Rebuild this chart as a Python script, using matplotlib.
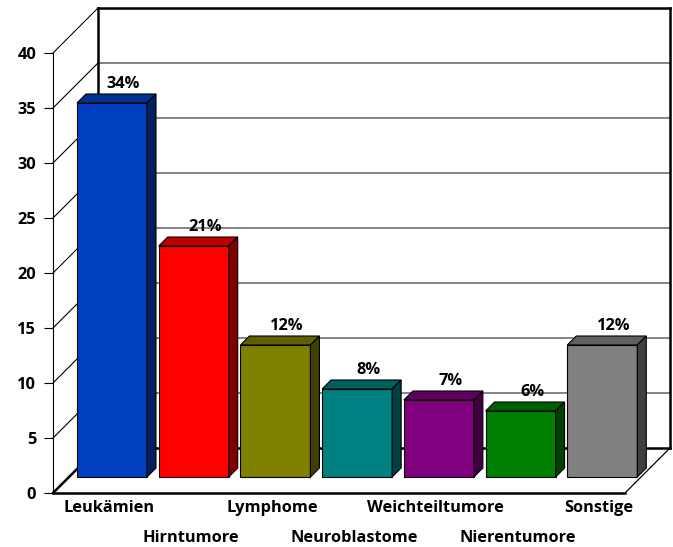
"""
Pseudo-3D bar chart: Verteilung der Krebserkrankungen im Kindesalter.
"""

import matplotlib
matplotlib.use("Agg")
import matplotlib.pyplot as plt
from matplotlib.patches import Polygon

# ---------------------------------------------------------------------------
# Data
# ---------------------------------------------------------------------------
categories = ["Leukämien", "Hirntumore", "Lymphome", "Neuroblastome",
              "Weichteiltumore", "Nierentumore", "Sonstige"]
values = [34, 21, 12, 8, 7, 6, 12]
value_labels = ["34%", "21%", "12%", "8%", "7%", "6%", "12%"]
y_ticks = [0, 5, 10, 15, 20, 25, 30, 35, 40]

front_colors = ["#0040C0", "#FF0000", "#808000", "#008080",
                "#800080", "#008000", "#808080"]
top_colors = ["#003090", "#C00000", "#606000", "#006060",
              "#600060", "#006000", "#606060"]
side_colors = ["#002060", "#800000", "#404000", "#004040",
               "#400040", "#004000", "#404040"]

# ---------------------------------------------------------------------------
# Geometry (pixel sizes converted to data units)
# ---------------------------------------------------------------------------
PX_X = 572 / 7.0   # pixels per category
PX_Y = 440 / 40.0  # pixels per value unit

depth_x, depth_y = 45 / PX_X, 45 / PX_Y       # full wall depth
bar_ox, bar_oy = 16 / PX_X, 16 / PX_Y         # bar front offset
bar_dx, bar_dy = 9 / PX_X, 9 / PX_Y           # bar depth
gap = 8 / PX_X
bar_w = 70 / PX_X

FONT = ["Open Sans", "DejaVu Sans"]
FS = 11.8

fig = plt.figure(figsize=(6.73, 5.47), dpi=100)
ax = fig.add_axes([53 / 673, 54 / 547, 572 / 673, 440 / 547])
ax.set_xlim(0, 7)
ax.set_ylim(0, 40)

for s in ("top", "right"):
    ax.spines[s].set_visible(False)
ax.spines["left"].set_linewidth(0.8)
ax.spines["bottom"].set_linewidth(1.8)
ax.spines["left"].set_zorder(1)

ax.set_xticks([])
ax.set_yticks(y_ticks)
ax.set_yticklabels([str(t) for t in y_ticks], fontfamily=FONT,
                   fontweight="bold", fontsize=FS)
ax.tick_params(axis="y", direction="out", length=6.5, width=0.8, pad=5.5)

# --- walls ---
line_kw = dict(clip_on=False, solid_capstyle="projecting")
for t in y_ticks[1:-1]:
    ax.plot([depth_x, 7 + depth_x], [t + depth_y, t + depth_y],
            color="#707070", lw=1.2, zorder=1, **line_kw)
for t in y_ticks[1:]:
    ax.plot([0, depth_x], [t, t + depth_y], color="black", lw=0.8,
            zorder=1, **line_kw)

# back wall outline
ax.plot([depth_x, 7 + depth_x], [40 + depth_y, 40 + depth_y],
        color="black", lw=1.8, zorder=1, **line_kw)
ax.plot([depth_x, depth_x], [depth_y, 40 + depth_y],
        color="black", lw=1.8, zorder=1, **line_kw)
ax.plot([7 + depth_x, 7 + depth_x], [depth_y, 40 + depth_y],
        color="black", lw=1.8, zorder=1, **line_kw)
# floor
ax.plot([depth_x, 7 + depth_x], [depth_y, depth_y],
        color="black", lw=1.8, zorder=1, **line_kw)
ax.plot([0, depth_x], [0, depth_y], color="black", lw=1.8,
        zorder=1, **line_kw)
ax.plot([7, 7 + depth_x], [0, depth_y], color="black", lw=0.9,
        zorder=1, **line_kw)

# --- bars ---
lefts = [i + bar_ox + gap for i in range(len(values))]
bars = ax.bar(lefts, values, width=bar_w, bottom=bar_oy, align="edge",
              color=front_colors, edgecolor="black", linewidth=0.8, zorder=3)
for b in bars:
    b.set_clip_on(False)

for xl, v, tc, sc in zip(lefts, values, top_colors, side_colors):
    y0, y1 = bar_oy, bar_oy + v
    top = Polygon([(xl, y1), (xl + bar_w, y1),
                   (xl + bar_w + bar_dx, y1 + bar_dy), (xl + bar_dx, y1 + bar_dy)],
                  closed=True, facecolor=tc, edgecolor="black", lw=0.8,
                  zorder=3, clip_on=False)
    side = Polygon([(xl + bar_w, y0), (xl + bar_w + bar_dx, y0 + bar_dy),
                    (xl + bar_w + bar_dx, y1 + bar_dy), (xl + bar_w, y1)],
                   closed=True, facecolor=sc, edgecolor="black", lw=0.8,
                   zorder=3, clip_on=False)
    ax.add_patch(top)
    ax.add_patch(side)

# value labels
for xl, v, lab in zip(lefts, values, value_labels):
    ax.text(xl + bar_w / 2 + 11.5 / PX_X, v + bar_oy + bar_dy + 0.55, lab,
            ha="center", va="baseline", fontfamily=FONT, fontweight="bold",
            fontsize=FS, zorder=4, clip_on=False)

# category labels, staggered in two rows
for i, (xl, name) in enumerate(zip(lefts, categories)):
    row_y = -1.4 if i % 2 == 0 else -4.1
    ax.text(xl + bar_w / 2 - 3 / PX_X, row_y, name, ha="center", va="center",
            fontfamily=FONT, fontweight="bold", fontsize=FS, clip_on=False)

fig.savefig("out.png", dpi=100)
